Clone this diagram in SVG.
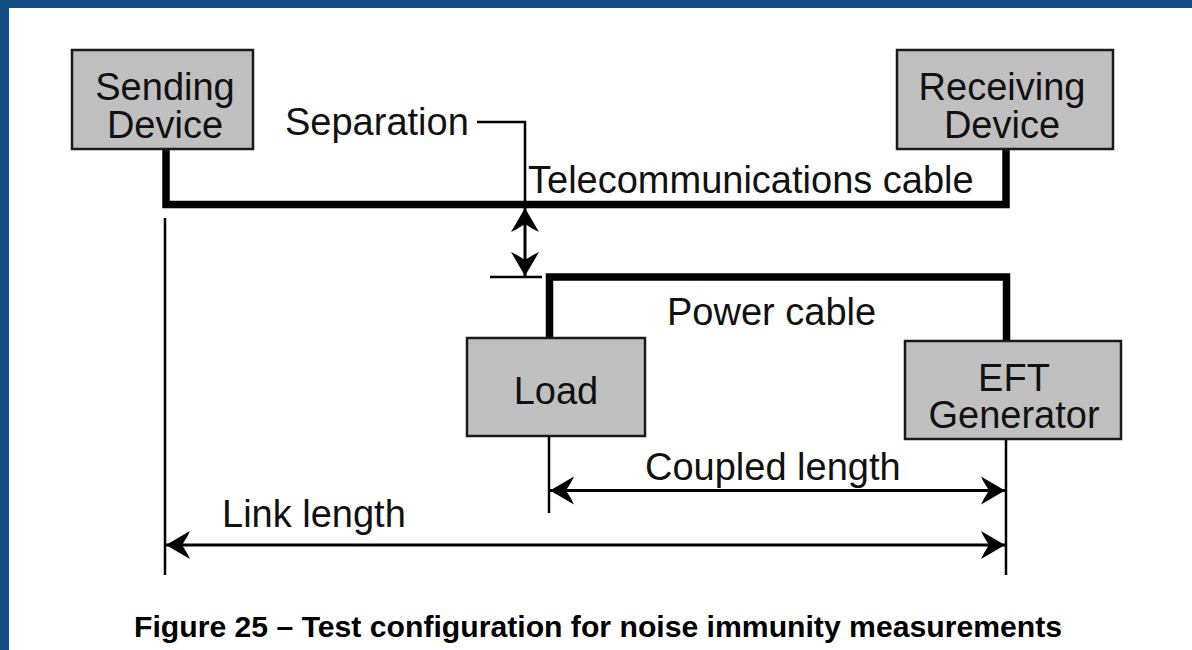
<svg xmlns="http://www.w3.org/2000/svg" width="1192" height="650" viewBox="0 0 1192 650">
  <style>
    .box { fill: #c0c0c0; stroke: #1a1a1a; stroke-width: 2.5; }
    .lbl { font-family: "Liberation Sans", Arial, sans-serif; font-size: 38px; fill: #111; }
    .mid { text-anchor: middle; }
    .cable { fill: none; stroke: #000; stroke-width: 7.5; stroke-linejoin: miter; }
    .thin { fill: none; stroke: #000; stroke-width: 2.5; }
    .dim { fill: none; stroke: #000; stroke-width: 3; marker-start: url(#arr); marker-end: url(#arr); }
    .cap { font-family: "Liberation Sans", Arial, sans-serif; font-size: 30px; font-weight: bold; fill: #000; }
  </style>
  <defs>
    <marker id="arr" viewBox="0 0 26 32" refX="25" refY="16" markerWidth="26" markerHeight="32" markerUnits="userSpaceOnUse" orient="auto-start-reverse">
      <path d="M25,16 L1,2 L4,8 L9,16 L4,24 L1,30 Z" fill="#000"/>
    </marker>
  </defs>
  <rect x="0" y="0" width="1192" height="650" fill="#ffffff"/>
  <rect x="0" y="0" width="1192" height="8" fill="#134f85"/>
  <rect x="0" y="0" width="9" height="650" fill="#134f85"/>

  <g id="connectors">
    <path class="cable" d="M166,149 V204.5 H1006 V149"/>
    <path class="cable" d="M549.5,338 V277 H1006.5 V341"/>
    <path class="thin" d="M477,122 H525 V206"/>
    <path class="thin" d="M490,277 H542"/>
    <line class="dim" x1="525" y1="208" x2="525" y2="276"/>
    <line class="thin" x1="165" y1="218" x2="165" y2="575"/>
    <line class="thin" x1="549" y1="437" x2="549" y2="513"/>
    <line class="thin" x1="1006" y1="439" x2="1006" y2="575"/>
    <line class="dim" x1="550" y1="490.5" x2="1005" y2="490.5"/>
    <line class="dim" x1="166" y1="545" x2="1005" y2="545"/>
    <text class="lbl" x="285" y="135">Separation</text>
    <text class="lbl" x="528" y="193">Telecommunications cable</text>
    <text class="lbl" x="667" y="325">Power cable</text>
    <text class="lbl" x="645" y="480">Coupled length</text>
    <text class="lbl" x="222" y="527">Link length</text>
  </g>

  <g id="sending-device">
    <rect class="box" x="72" y="50" width="181" height="99"/>
    <text class="lbl mid" x="165" y="100">Sending</text>
    <text class="lbl mid" x="165" y="138">Device</text>
  </g>
  <g id="receiving-device">
    <rect class="box" x="897" y="50" width="216" height="99"/>
    <text class="lbl mid" x="1002" y="100">Receiving</text>
    <text class="lbl mid" x="1002" y="138">Device</text>
  </g>
  <g id="load">
    <rect class="box" x="467" y="338" width="178" height="98"/>
    <text class="lbl mid" x="556" y="404">Load</text>
  </g>
  <g id="eft-generator">
    <rect class="box" x="905" y="341" width="216" height="98"/>
    <text class="lbl mid" x="1014" y="391">EFT</text>
    <text class="lbl mid" x="1014" y="428">Generator</text>
  </g>

  <text class="cap" x="134" y="637" textLength="928" lengthAdjust="spacingAndGlyphs">Figure 25 – Test configuration for noise immunity measurements</text>
</svg>
